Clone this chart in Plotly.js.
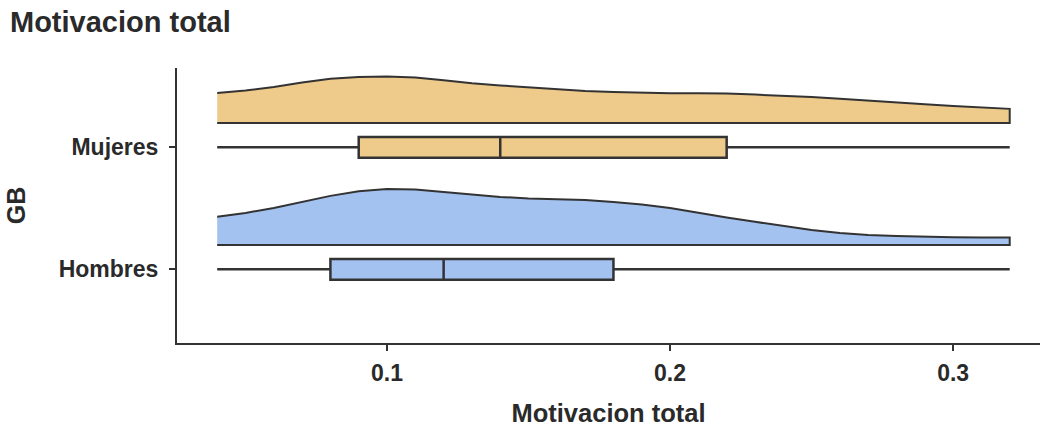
<!DOCTYPE html>
<html>
<head>
<meta charset="utf-8">
<script src="https://cdn.plot.ly/plotly-3.0.1.min.js"></script>
<style>html,body{margin:0;padding:0;background:#fff;}#chart{width:1044px;height:429px;}</style>
</head>
<body>
<div id="chart"></div>
<script>
// Categories and their positions on the y axis
const categories = ['Hombres', 'Mujeres'];
const catPos = [1, 2];
const colors = ['#A3C2F0', '#EFCB8B'];

// Box statistics (Motivacion total)
const q1Vals = [0.08, 0.09];
const medianVals = [0.12, 0.14];
const q3Vals = [0.18, 0.22];
const lowVals = [0.04, 0.04];
const highVals = [0.32, 0.32];

// Density estimate grid (x) and scaled density heights per group
const densX = [0.04,0.05,0.06,0.07,0.08,0.09,0.10,0.11,0.12,0.13,0.14,0.15,0.16,0.17,0.18,0.19,0.20,0.21,0.22,0.23,0.24,0.25,0.26,0.27,0.28,0.29,0.30,0.31,0.32];
const densHombres = [0.230,0.262,0.303,0.352,0.402,0.439,0.459,0.455,0.434,0.410,0.393,0.381,0.377,0.369,0.352,0.332,0.303,0.262,0.225,0.189,0.156,0.123,0.098,0.082,0.074,0.066,0.063,0.061,0.061];
const densMujeres = [0.246,0.266,0.295,0.332,0.361,0.377,0.381,0.373,0.350,0.325,0.307,0.291,0.275,0.262,0.254,0.246,0.243,0.243,0.242,0.232,0.225,0.213,0.197,0.180,0.166,0.152,0.139,0.127,0.115];
const densities = [densHombres, densMujeres];

const nudge = 0.2;
const edge = '#333333';
const traces = [];

categories.forEach((cat, i) => {
  const base = catPos[i] + nudge;
  const xs = densX.concat(densX.slice().reverse());
  const ys = densities[i].map(d => base + d).concat(densX.map(() => base));
  traces.push({
    type: 'scatter', mode: 'lines', x: xs, y: ys,
    fill: 'toself', fillcolor: colors[i],
    line: {color: edge, width: 2}, hoverinfo: 'skip', showlegend: false
  });
  traces.push({
    type: 'box', orientation: 'h', name: cat,
    y: [catPos[i]], q1: [q1Vals[i]], median: [medianVals[i]], q3: [q3Vals[i]],
    lowerfence: [lowVals[i]], upperfence: [highVals[i]],
    width: 0.17, whiskerwidth: 0, boxpoints: false,
    fillcolor: colors[i], line: {color: edge, width: 2.5}, showlegend: false
  });
});

const fontFam = '"Liberation Sans", Arial, sans-serif';
const txt = '#2a2a2a';
const layout = {
  width: 1044, height: 429,
  margin: {l: 177, r: 4, t: 68, b: 86},
  paper_bgcolor: '#fff', plot_bgcolor: '#fff',
  font: {family: fontFam, color: txt},
  title: {text: 'Motivacion total', x: 10/1044, xref: 'container', xanchor: 'left',
          y: 1 - 22/429, yref: 'container', yanchor: 'middle',
          font: {size: 29, color: txt, family: fontFam, weight: 'bold'}},
  xaxis: {
    range: [0.0258, 0.3307], tickvals: [0.1, 0.2, 0.3], ticktext: ['0.1','0.2','0.3'],
    showgrid: false, zeroline: false, showline: true, linecolor: edge, linewidth: 2,
    ticks: 'outside', ticklen: 6, tickwidth: 2, tickcolor: edge,
    tickfont: {size: 23, color: txt, weight: 'bold'}, ticklabelstandoff: 2,
    title: {text: 'Motivacion total', standoff: 20, font: {size: 25.5, color: txt, weight: 'bold'}},
    automargin: false, fixedrange: true
  },
  yaxis: {
    range: [0.396, 2.65], tickvals: catPos, ticktext: categories,
    showgrid: false, zeroline: false, showline: true, linecolor: edge, linewidth: 2,
    ticks: 'outside', ticklen: 6, tickwidth: 2, tickcolor: edge,
    tickfont: {size: 23, color: txt, weight: 'bold'}, ticklabelstandoff: 6,
    title: {text: 'GB', standoff: 26, font: {size: 25, color: txt, weight: 'bold'}},
    automargin: false, fixedrange: true
  },
  showlegend: false
};

Plotly.newPlot('chart', traces, layout, {displayModeBar: false, staticPlot: true});
</script>
</body>
</html>
